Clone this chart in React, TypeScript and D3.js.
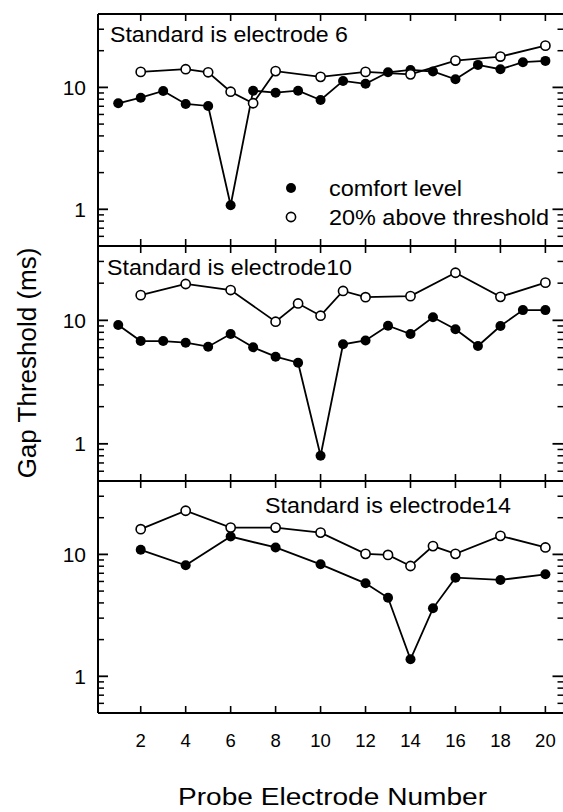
import React from "react";
import * as d3 from "d3";

// Probe electrode numbers and gap thresholds (ms) for each standard electrode
const comfort6X = [1, 2, 3, 4, 5, 6, 7, 8, 9, 10, 11, 12, 13, 14, 15, 16, 17, 18, 19, 20];
const comfort6Y = [7.41, 8.23, 9.34, 7.31, 7.04, 1.08, 9.4, 9.05, 9.4, 7.88, 11.3, 10.7, 13.3, 13.9, 13.5, 11.65, 15.3, 14.1, 16.1, 16.5];
const above6X = [2, 4, 5, 6, 7, 8, 10, 12, 14, 16, 18, 20];
const above6Y = [13.4, 14.1, 13.3, 9.22, 7.41, 13.6, 12.2, 13.4, 12.8, 16.6, 17.9, 22.0];

const comfort10X = [1, 2, 3, 4, 5, 6, 7, 8, 9, 10, 11, 12, 13, 14, 15, 16, 17, 18, 19, 20];
const comfort10Y = [9.17, 6.8, 6.8, 6.59, 6.12, 7.75, 6.05, 5.08, 4.54, 0.8, 6.4, 6.87, 9.05, 7.75, 10.6, 8.46, 6.2, 9.0, 12.1, 12.1];
const above10X = [2, 4, 6, 8, 9, 10, 11, 12, 14, 16, 18, 20];
const above10Y = [16.0, 19.7, 17.6, 9.75, 13.7, 10.9, 17.3, 15.4, 15.7, 24.3, 15.5, 20.2];

const comfort14X = [2, 4, 6, 8, 10, 12, 13, 14, 15, 16, 18, 20];
const comfort14Y = [10.9, 8.14, 14.0, 11.4, 8.29, 5.79, 4.41, 1.38, 3.61, 6.44, 6.17, 6.87];
const above14X = [2, 4, 6, 8, 10, 12, 13, 14, 15, 16, 18, 20];
const above14Y = [16.1, 22.8, 16.6, 16.6, 15.1, 10.1, 9.9, 8.03, 11.7, 10.1, 14.2, 11.4];

const panelTitles = ["Standard is electrode 6", "Standard is electrode10", "Standard is electrode14"];
const xTickValues = [2, 4, 6, 8, 10, 12, 14, 16, 18, 20];
const yMajorTicks = [1, 10];
const yMinorTicks = [0.5, 0.6, 0.7, 0.8, 0.9, 2, 3, 4, 5, 6, 7, 8, 9, 20, 30, 40];
const legendLabels = ["comfort level", "20% above threshold"];
const xAxisTitle = "Probe Electrode Number";
const yAxisTitle = "Gap Threshold (ms)";

const W = 563;
const H = 812;
const left = 98;
const right = 564.5;
const panelEdges = [14, 246, 481, 713];
const FONT = "'Liberation Sans', Arial, Helvetica, sans-serif";

const x = d3.scaleLinear().domain([0.1, 20.85]).range([left, right]);

const panels = [
  { cx: comfort6X, cy: comfort6Y, ax: above6X, ay: above6Y, title: { x: 110, y: 41.5, len: 238 } },
  { cx: comfort10X, cy: comfort10Y, ax: above10X, ay: above10Y, title: { x: 107, y: 275, len: 245 } },
  { cx: comfort14X, cy: comfort14Y, ax: above14X, ay: above14Y, title: { x: 265, y: 513, len: 246 } },
];

function Panel({ idx }: { idx: number }) {
  const p = panels[idx];
  const top = panelEdges[idx];
  const bottom = panelEdges[idx + 1];
  const y = d3.scaleLog().domain([0.5, 40]).range([bottom, top]);
  const line = d3
    .line<[number, number]>()
    .x((d) => x(d[0]))
    .y((d) => y(d[1]));
  const comfortPts: [number, number][] = p.cx.map((v, i) => [v, p.cy[i]]);
  const abovePts: [number, number][] = p.ax.map((v, i) => [v, p.ay[i]]);

  return (
    <g>
      {/* x ticks, pointing inward from top and bottom of the panel */}
      {xTickValues.map((t) => (
        <g key={"xt" + t} stroke="#000" strokeWidth={1.6}>
          <line x1={x(t)} x2={x(t)} y1={top} y2={top + 7} />
          <line x1={x(t)} x2={x(t)} y1={bottom} y2={bottom - 7} />
        </g>
      ))}
      {/* log y ticks on both sides */}
      {yMajorTicks.map((t) => (
        <g key={"ym" + t} stroke="#000" strokeWidth={1.8}>
          <line x1={left} x2={left + 10} y1={y(t)} y2={y(t)} />
          <line x1={right} x2={right - 12} y1={y(t)} y2={y(t)} />
        </g>
      ))}
      {yMinorTicks.map((t) => (
        <g key={"yn" + t} stroke="#000" strokeWidth={1.5}>
          <line x1={left} x2={left + 6} y1={y(t)} y2={y(t)} />
          <line x1={right} x2={right - 7} y1={y(t)} y2={y(t)} />
        </g>
      ))}
      {yMajorTicks.map((t) => (
        <text
          key={"yl" + t}
          x={86}
          y={y(t)}
          dy="0.35em"
          textAnchor="end"
          fontSize={21}
          fontFamily={FONT}
        >
          {t}
        </text>
      ))}
      <text
        x={p.title.x}
        y={p.title.y}
        fontSize={21.5}
        fontFamily={FONT}
        textLength={p.title.len}
        lengthAdjust="spacingAndGlyphs"
      >
        {panelTitles[idx]}
      </text>
      <path d={line(abovePts) || ""} fill="none" stroke="#000" strokeWidth={1.8} />
      <path d={line(comfortPts) || ""} fill="none" stroke="#000" strokeWidth={1.8} />
      {comfortPts.map((d, i) => (
        <circle key={"c" + i} cx={x(d[0])} cy={y(d[1])} r={5} fill="#000" />
      ))}
      {abovePts.map((d, i) => (
        <circle key={"a" + i} cx={x(d[0])} cy={y(d[1])} r={4.6} fill="#fff" stroke="#000" strokeWidth={1.6} />
      ))}
    </g>
  );
}

export default function App() {
  return (
    <svg
      width={W}
      height={H}
      viewBox={`0 0 ${W} ${H}`}
      style={{ position: "absolute", left: 0, top: 0, background: "#fff" }}
    >
      <rect x={0} y={0} width={W} height={H} fill="#fff" />
      {[0, 1, 2].map((i) => (
        <Panel key={i} idx={i} />
      ))}
      {/* frame lines */}
      <g stroke="#000" strokeWidth={2}>
        <line x1={left} x2={left} y1={panelEdges[0]} y2={panelEdges[3]} />
        <line x1={right} x2={right} y1={panelEdges[0]} y2={panelEdges[3]} />
        {panelEdges.map((e) => (
          <line key={"e" + e} x1={left} x2={right + 2} y1={e} y2={e} />
        ))}
      </g>
      {/* legend */}
      <circle cx={291} cy={188} r={5} fill="#000" />
      <text x={329} y={196} fontSize={21.5} fontFamily={FONT} textLength={133} lengthAdjust="spacingAndGlyphs">
        {legendLabels[0]}
      </text>
      <circle cx={291} cy={217} r={4.6} fill="#fff" stroke="#000" strokeWidth={1.6} />
      <text x={329} y={225} fontSize={21.5} fontFamily={FONT} textLength={220} lengthAdjust="spacingAndGlyphs">
        {legendLabels[1]}
      </text>
      {/* x tick labels */}
      {xTickValues.map((t) => (
        <text key={"xl" + t} x={x(t)} y={747} textAnchor="middle" fontSize={18.5} fontFamily={FONT}>
          {t}
        </text>
      ))}
      <text
        x={178}
        y={805}
        fontSize={23.5}
        fontFamily={FONT}
        textLength={309}
        lengthAdjust="spacingAndGlyphs"
      >
        {xAxisTitle}
      </text>
      <text
        transform={`translate(36, 363) rotate(-90)`}
        textAnchor="middle"
        fontSize={26}
        fontFamily={FONT}
      >
        {yAxisTitle}
      </text>
    </svg>
  );
}
